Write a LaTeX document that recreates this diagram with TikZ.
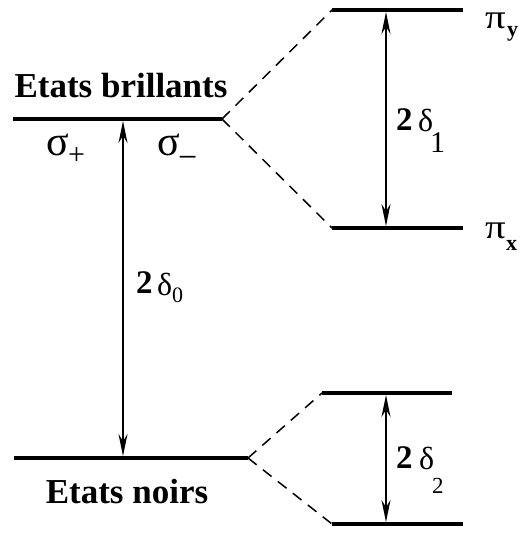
\documentclass[tikz,border=0pt]{standalone}
\usepackage{fontspec}
\setmainfont{Liberation Serif}[BoldFont={Liberation Serif Bold}]
\usetikzlibrary{arrows.meta}
\begin{document}
\begin{tikzpicture}[x=1pt,y=-1pt,
  level/.style={line width=3.8pt},
  conn/.style={line width=1.5pt, dash pattern=on 11pt off 8pt},
  gaparrow/.style={line width=1.7pt, {Stealth[length=22pt,width=9pt]}-{Stealth[length=22pt,width=9pt]}},
  lbl/.style={inner sep=0pt, anchor=base west},
  big/.style={font=\fontsize{35}{40}\selectfont\bfseries},
  sig/.style={font=\fontsize{42}{46}\selectfont},
  pii/.style={font=\fontsize{34}{38}\selectfont},
  dlt/.style={font=\fontsize{32}{36}\selectfont},
  two/.style={font=\fontsize{33}{36}\selectfont\bfseries},
  sub/.style={font=\fontsize{22}{26}\selectfont},
  bsub/.style={font=\fontsize{22}{26}\selectfont\bfseries}]
\useasboundingbox (0,0) rectangle (521,533);
% level coordinates
\coordinate (bl1) at (13,119);  \coordinate (br1) at (222,119);
\coordinate (yl) at (332,10);   \coordinate (yr) at (463,10);
\coordinate (xl) at (332,228);  \coordinate (xr) at (463,228);
\coordinate (nl) at (14,458);   \coordinate (nr) at (248,458);
\coordinate (ul) at (322,393);  \coordinate (ur) at (452,393);
\coordinate (ll) at (332,524);  \coordinate (lr) at (463,524);
% arrow ends
\coordinate (a0t) at (123,121); \coordinate (a0b) at (123,456);
\coordinate (a1t) at (386,12);  \coordinate (a1b) at (386,226);
\coordinate (a2t) at (386,395); \coordinate (a2b) at (386,522);
% levels
\draw[level] (bl1) -- (br1);
\draw[level] (yl) -- (yr);
\draw[level] (xl) -- (xr);
\draw[level] (nl) -- (nr);
\draw[level] (ul) -- (ur);
\draw[level] (ll) -- (lr);
% dashed connectors
\draw[conn] (br1) -- (yl);
\draw[conn] (br1) -- (xl);
\draw[conn] (nr) -- (ul);
\draw[conn] (nr) -- (ll);
% gap arrows
\draw[gaparrow] (a0t) -- (a0b);
\draw[gaparrow] (a1t) -- (a1b);
\draw[gaparrow] (a2t) -- (a2b);
% titles
\node[big, inner sep=0pt, anchor=base] (tb) at (121,97) {Etats brillants};
\node[big, inner sep=0pt, anchor=base] (tn) at (127,503) {Etats noirs};
% sigma labels
\node[sig, lbl] (sp) at (46,155) {σ};
\node[font=\fontsize{30}{34}\selectfont, lbl] (spp) at (68,164) {+};
\node[sig, lbl] (sm) at (157,155) {σ};
\node[font=\fontsize{34}{38}\selectfont, lbl] (smm) at (178,168) {−};
% pi labels
\node[pii, lbl, xscale=1.2] (py) at (485,28) {π};
\node[bsub, lbl] (pyy) at (507,36) {y};
\node[pii, lbl, xscale=1.2] (px) at (485,238) {π};
\node[bsub, lbl] (pxx) at (506,250) {x};
% gap labels
\node[two, lbl] (g0) at (136,293) {2};
\node[dlt, lbl] (d0) at (157,295) {δ};
\node[sub, lbl] (s0) at (172,302) {0};
\node[two, lbl] (g1) at (396,130) {2};
\node[dlt, lbl] (d1) at (418,131) {δ};
\node[font=\fontsize{30}{34}\selectfont, lbl] (s1) at (430,152) {1};
\node[two, lbl] (g2) at (396,468) {2};
\node[dlt, lbl] (d2) at (419,469) {δ};
\node[font=\fontsize{23}{26}\selectfont, lbl] (s2) at (432,493) {2};
\end{tikzpicture}
\end{document}
